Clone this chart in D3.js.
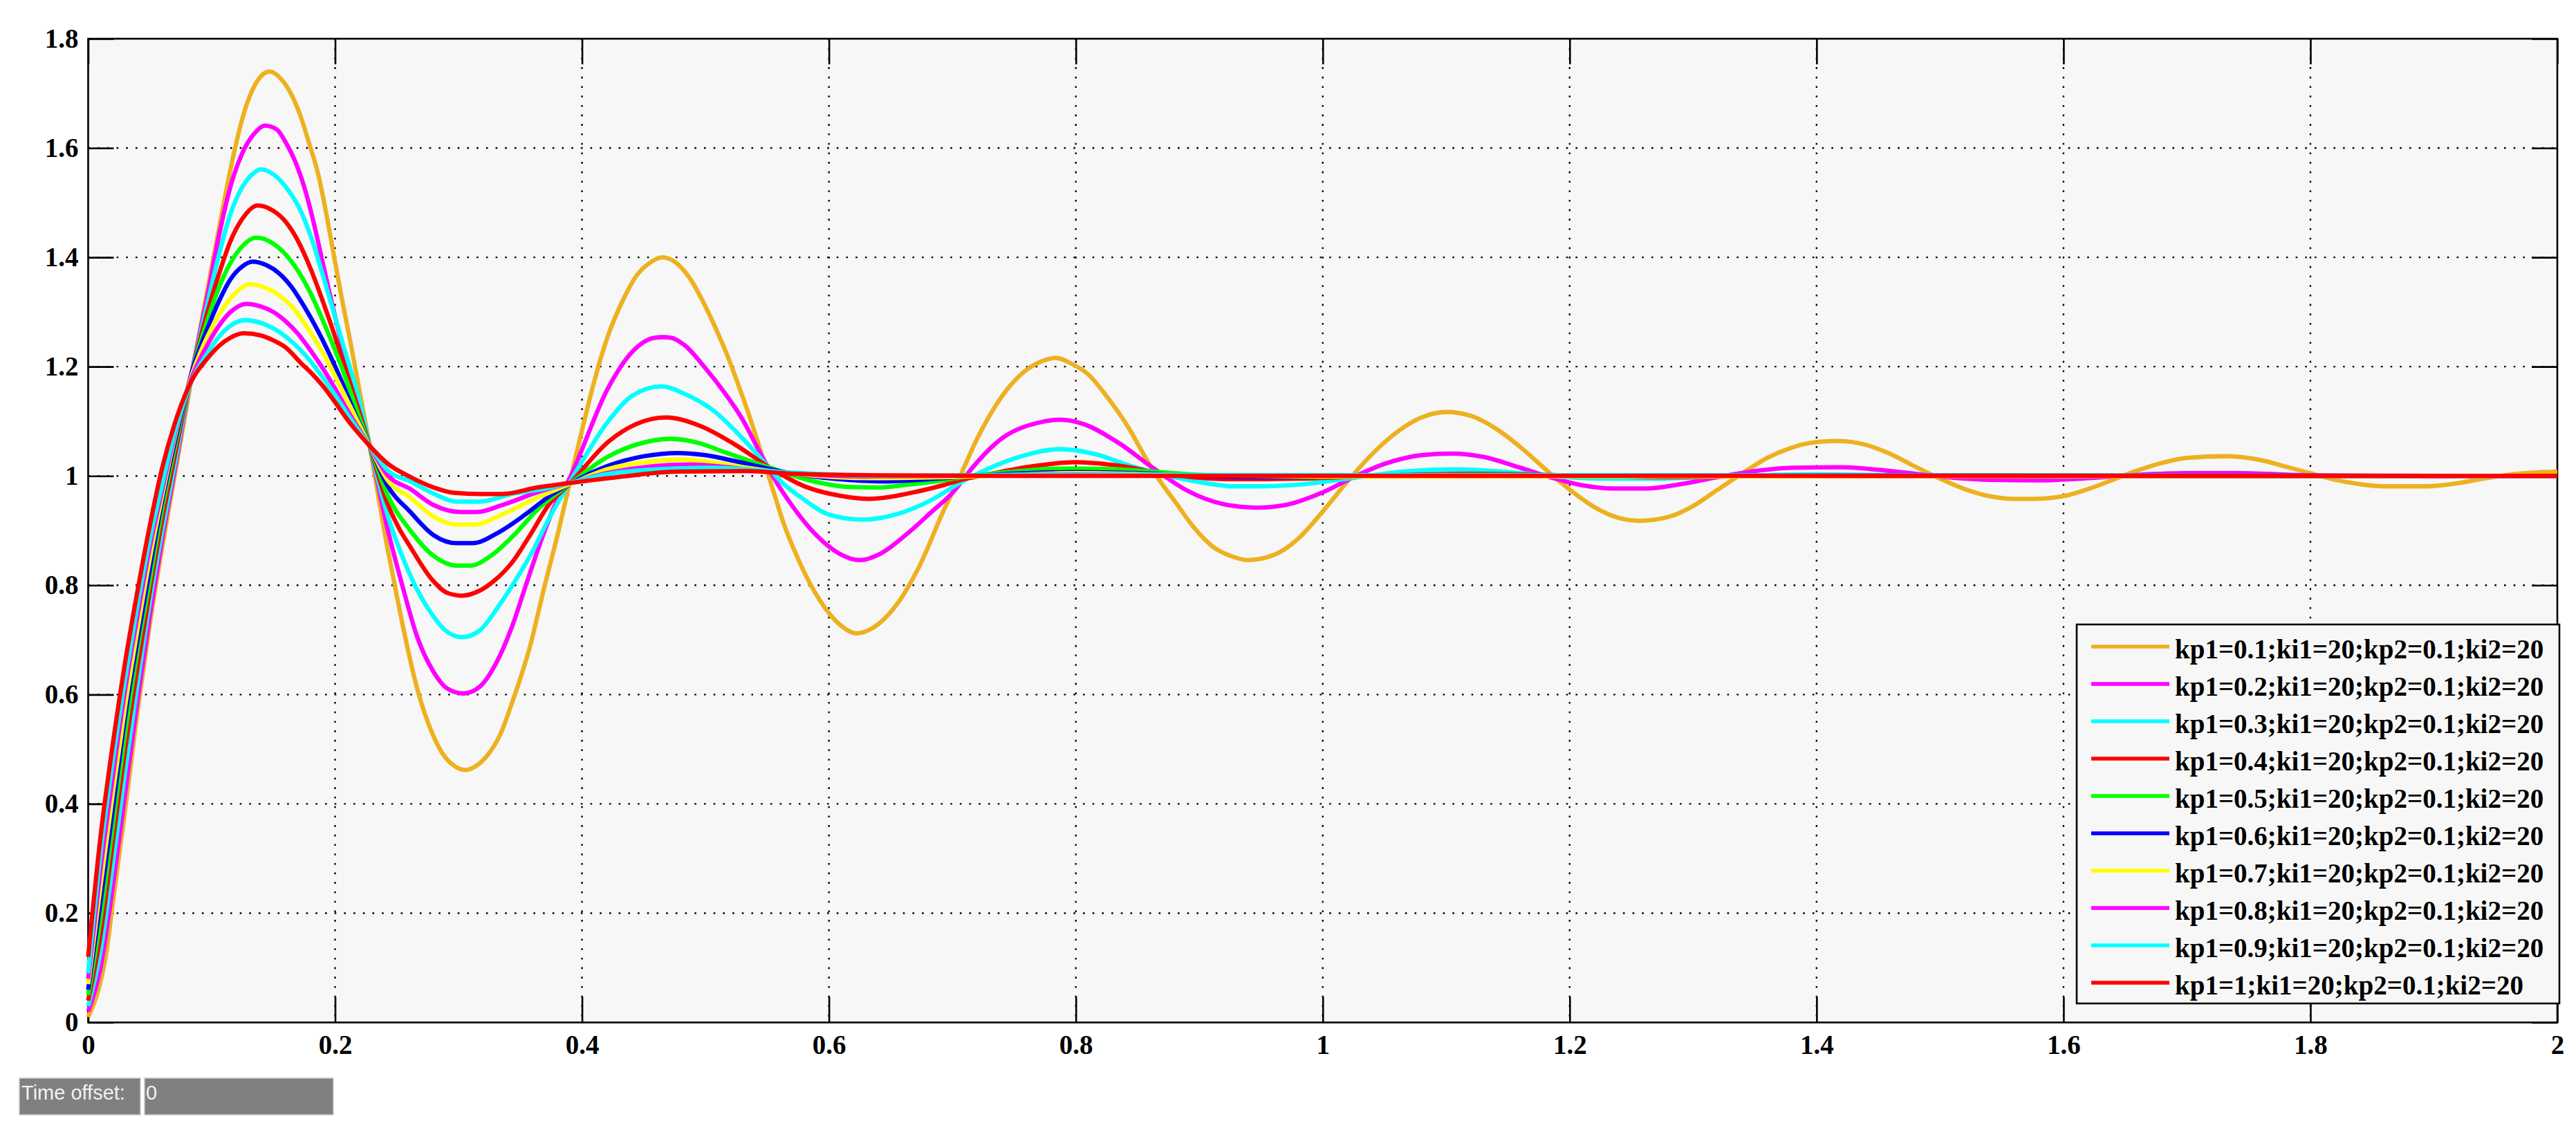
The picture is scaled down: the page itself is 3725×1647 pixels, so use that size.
<!DOCTYPE html>
<html><head><meta charset="utf-8">
<script src="https://cdn.jsdelivr.net/npm/d3@7"></script>
<style>html,body{margin:0;padding:0;background:#fff;}svg{display:block;}</style>
</head><body>
<script>
// ---------- data ----------
const xTicks = [0,0.2,0.4,0.6,0.8,1,1.2,1.4,1.6,1.8,2];
const xTickLabels = ["0","0.2","0.4","0.6","0.8","1","1.2","1.4","1.6","1.8","2"];
const yTicks = [0,0.2,0.4,0.6,0.8,1,1.2,1.4,1.6,1.8];
const yTickLabels = ["0","0.2","0.4","0.6","0.8","1","1.2","1.4","1.6","1.8"];
const seriesNames = [
 "kp1=0.1;ki1=20;kp2=0.1;ki2=20","kp1=0.2;ki1=20;kp2=0.1;ki2=20","kp1=0.3;ki1=20;kp2=0.1;ki2=20",
 "kp1=0.4;ki1=20;kp2=0.1;ki2=20","kp1=0.5;ki1=20;kp2=0.1;ki2=20","kp1=0.6;ki1=20;kp2=0.1;ki2=20",
 "kp1=0.7;ki1=20;kp2=0.1;ki2=20","kp1=0.8;ki1=20;kp2=0.1;ki2=20","kp1=0.9;ki1=20;kp2=0.1;ki2=20",
 "kp1=1;ki1=20;kp2=0.1;ki2=20"];
const seriesColors = ["#EDB120","#FF00FF","#00FFFF","#FF0000","#00FF00","#0000FF","#FFFF00","#FF00FF","#00FFFF","#FF0000"];
const timeOffsetLabel = "Time offset:";
const timeOffsetValue = "0";

// [time, value] pairs
const kp01 = [[0,0.01],[0.01,0.075],[0.0145,0.124],[0.02,0.22],[0.03,0.39],[0.04,0.57],[0.05,0.73],[0.06,0.87],[0.07,1.0],[0.08,1.13],[0.09,1.26],[0.0966,1.34],[0.1041,1.43],[0.1116,1.52],[0.119,1.60],[0.1284,1.68],[0.1377,1.725],[0.147,1.74],[0.1564,1.726],[0.1639,1.701],[0.1713,1.663],[0.1788,1.61],[0.1863,1.552],[0.1937,1.47],[0.1993,1.40],[0.205,1.33],[0.2124,1.245],[0.2199,1.155],[0.228,1.055],[0.2423,0.87],[0.2479,0.805],[0.2554,0.72],[0.2666,0.61],[0.2759,0.545],[0.2871,0.492],[0.2962,0.47],[0.3054,0.462],[0.3146,0.47],[0.3238,0.49],[0.3338,0.527],[0.3441,0.59],[0.3581,0.69],[0.3693,0.795],[0.3805,0.895],[0.3898,0.985],[0.3954,1.04],[0.4216,1.26],[0.4328,1.32],[0.444,1.366],[0.455,1.39],[0.465,1.40],[0.475,1.392],[0.486,1.366],[0.5,1.31],[0.5093,1.265],[0.5187,1.215],[0.5261,1.17],[0.5355,1.11],[0.5448,1.045],[0.5504,1.005],[0.556,0.965],[0.5635,0.912],[0.5747,0.85],[0.5859,0.798],[0.599,0.752],[0.6083,0.729],[0.6223,0.712],[0.6363,0.723],[0.655,0.765],[0.6737,0.837],[0.6924,0.934],[0.7064,1.0],[0.7185,1.061],[0.7316,1.116],[0.7446,1.159],[0.7577,1.19],[0.7726,1.21],[0.7838,1.216],[0.7969,1.205],[0.81,1.186],[0.8249,1.146],[0.8436,1.085],[0.8548,1.04],[0.866,0.998],[0.881,0.951],[0.8959,0.905],[0.9108,0.871],[0.9276,0.852],[0.9388,0.846],[0.96,0.855],[0.98,0.885],[1.0,0.935],[1.02,0.99],[1.04,1.04],[1.06,1.08],[1.08,1.107],[1.10,1.117],[1.12,1.11],[1.14,1.087],[1.16,1.053],[1.18,1.013],[1.20,0.975],[1.22,0.943],[1.24,0.923],[1.256,0.918],[1.28,0.925],[1.30,0.945],[1.32,0.975],[1.34,1.005],[1.36,1.033],[1.38,1.052],[1.40,1.062],[1.416,1.064],[1.44,1.057],[1.46,1.04],[1.48,1.017],[1.50,0.995],[1.52,0.976],[1.54,0.963],[1.56,0.958],[1.575,0.958],[1.60,0.963],[1.62,0.976],[1.64,0.993],[1.66,1.01],[1.68,1.024],[1.70,1.033],[1.731,1.036],[1.76,1.029],[1.78,1.017],[1.80,1.005],[1.82,0.993],[1.84,0.985],[1.86,0.981],[1.893,0.981],[1.92,0.987],[1.94,0.995],[1.96,1.002],[1.98,1.006],[2.0,1.008]];
const kp02 = [[0,0.02],[0.01,0.10],[0.02,0.25],[0.03,0.42],[0.04,0.59],[0.05,0.745],[0.06,0.885],[0.07,1.01],[0.084,1.19],[0.0966,1.33],[0.106,1.44],[0.1153,1.53],[0.1247,1.59],[0.134,1.625],[0.1433,1.641],[0.1527,1.634],[0.1601,1.61],[0.1676,1.576],[0.1751,1.528],[0.1825,1.465],[0.19,1.39],[0.1975,1.315],[0.205,1.245],[0.2124,1.18],[0.2218,1.11],[0.228,1.055],[0.2423,0.905],[0.2544,0.80],[0.2666,0.705],[0.2796,0.642],[0.2909,0.611],[0.3039,0.602],[0.317,0.614],[0.3301,0.656],[0.3431,0.723],[0.3544,0.799],[0.3655,0.873],[0.3768,0.94],[0.3898,0.995],[0.4216,1.163],[0.4402,1.226],[0.4589,1.253],[0.4654,1.254],[0.472,1.253],[0.4832,1.239],[0.5,1.197],[0.5149,1.154],[0.5299,1.104],[0.5448,1.04],[0.556,0.994],[0.571,0.943],[0.5896,0.892],[0.6083,0.858],[0.6251,0.846],[0.6419,0.858],[0.6643,0.896],[0.683,0.934],[0.7017,0.973],[0.7129,1.006],[0.7409,1.07],[0.7689,1.097],[0.7876,1.103],[0.8063,1.095],[0.8343,1.061],[0.8623,1.015],[0.8903,0.973],[0.9183,0.949],[0.946,0.942],[0.97,0.947],[1.0,0.97],[1.025,0.998],[1.05,1.022],[1.08,1.038],[1.105,1.041],[1.13,1.035],[1.16,1.015],[1.185,0.997],[1.21,0.983],[1.235,0.977],[1.262,0.977],[1.29,0.985],[1.32,0.998],[1.35,1.009],[1.38,1.015],[1.42,1.016],[1.46,1.009],[1.50,0.999],[1.54,0.993],[1.58,0.992],[1.62,0.996],[1.66,1.002],[1.70,1.005],[1.74,1.005],[1.80,1.001],[1.9,0.999],[2.0,1.0]];
const kp03 = [[0,0.03],[0.01,0.13],[0.02,0.29],[0.03,0.46],[0.04,0.62],[0.05,0.77],[0.06,0.90],[0.07,1.02],[0.084,1.19],[0.0966,1.315],[0.106,1.405],[0.1153,1.48],[0.1247,1.528],[0.132,1.55],[0.14,1.561],[0.1527,1.547],[0.162,1.523],[0.1713,1.489],[0.1807,1.436],[0.19,1.368],[0.1993,1.296],[0.2087,1.223],[0.2199,1.136],[0.228,1.055],[0.2423,0.93],[0.2535,0.858],[0.2647,0.80],[0.2778,0.749],[0.289,0.718],[0.303,0.705],[0.317,0.717],[0.3319,0.76],[0.3478,0.815],[0.3599,0.862],[0.373,0.921],[0.3898,0.987],[0.4216,1.101],[0.4402,1.146],[0.4645,1.164],[0.4832,1.15],[0.5056,1.121],[0.5261,1.078],[0.5448,1.032],[0.5616,0.989],[0.5803,0.956],[0.599,0.93],[0.627,0.92],[0.655,0.93],[0.683,0.956],[0.7073,0.989],[0.722,1.006],[0.7502,1.032],[0.7876,1.049],[0.8156,1.04],[0.8436,1.019],[0.8716,1.002],[0.8996,0.989],[0.9277,0.981],[0.9463,0.981],[0.98,0.984],[1.03,0.998],[1.07,1.009],[1.11,1.012],[1.15,1.007],[1.19,0.999],[1.23,0.995],[1.27,0.995],[1.32,0.999],[1.4,1.003],[1.5,1.0],[1.6,0.999],[2.0,1.0]];
const kp04 = [[0,0.04],[0.01,0.16],[0.02,0.33],[0.03,0.50],[0.04,0.65],[0.05,0.79],[0.06,0.92],[0.07,1.035],[0.084,1.19],[0.0966,1.30],[0.106,1.37],[0.1153,1.43],[0.1247,1.47],[0.1373,1.495],[0.15,1.485],[0.16,1.465],[0.17,1.43],[0.18,1.38],[0.19,1.32],[0.2,1.255],[0.21,1.185],[0.22,1.115],[0.228,1.055],[0.2423,0.95],[0.2516,0.905],[0.261,0.87],[0.2787,0.81],[0.2909,0.786],[0.303,0.781],[0.317,0.79],[0.3282,0.807],[0.3431,0.841],[0.358,0.892],[0.373,0.947],[0.3898,0.985],[0.4216,1.063],[0.444,1.095],[0.4682,1.107],[0.4963,1.091],[0.5243,1.057],[0.5523,1.015],[0.5803,0.981],[0.6083,0.964],[0.6326,0.958],[0.6643,0.968],[0.6924,0.983],[0.7092,0.994],[0.7316,1.004],[0.7689,1.019],[0.7988,1.025],[0.834,1.019],[0.8716,1.004],[0.9276,0.994],[0.946,0.994],[0.98,0.995],[1.04,1.0],[1.12,1.004],[1.2,1.001],[1.28,0.998],[1.4,1.001],[2.0,1.0]];
const kp05 = [[0,0.05],[0.01,0.19],[0.02,0.36],[0.03,0.53],[0.04,0.68],[0.05,0.81],[0.06,0.94],[0.07,1.05],[0.084,1.19],[0.0966,1.285],[0.106,1.345],[0.1153,1.39],[0.1247,1.42],[0.136,1.436],[0.15,1.425],[0.16,1.405],[0.17,1.375],[0.18,1.335],[0.19,1.285],[0.2,1.23],[0.21,1.17],[0.22,1.105],[0.228,1.055],[0.2423,0.966],[0.261,0.90],[0.2796,0.854],[0.2983,0.836],[0.3095,0.836],[0.3263,0.854],[0.345,0.892],[0.3637,0.938],[0.3898,0.985],[0.4216,1.036],[0.445,1.058],[0.472,1.068],[0.495,1.06],[0.515,1.044],[0.5523,1.015],[0.5896,0.989],[0.615,0.98],[0.64,0.979],[0.66,0.983],[0.683,0.989],[0.709,0.998],[0.75,1.008],[0.788,1.0135],[0.82,1.013],[0.8436,1.011],[0.9,1.002],[0.937,0.999],[0.98,0.998],[1.05,1.0],[1.12,1.002],[1.3,1.0],[2.0,1.0]];
const kp06 = [[0,0.06],[0.01,0.22],[0.02,0.39],[0.03,0.56],[0.04,0.70],[0.05,0.83],[0.06,0.955],[0.07,1.06],[0.084,1.19],[0.0966,1.27],[0.106,1.32],[0.1153,1.36],[0.1247,1.383],[0.133,1.392],[0.145,1.385],[0.155,1.37],[0.165,1.345],[0.175,1.31],[0.185,1.27],[0.195,1.225],[0.205,1.175],[0.215,1.12],[0.228,1.055],[0.2423,0.983],[0.261,0.934],[0.2796,0.892],[0.2983,0.877],[0.3114,0.877],[0.3319,0.896],[0.3544,0.93],[0.373,0.962],[0.3898,0.985],[0.4216,1.019],[0.45,1.036],[0.4776,1.042],[0.5,1.038],[0.5243,1.027],[0.5616,1.008],[0.6083,0.994],[0.6457,0.99],[0.6924,0.996],[0.7316,1.002],[0.8,1.007],[0.85,1.005],[0.9,1.0],[0.95,0.998],[1.05,1.0],[1.15,1.001],[2.0,1.0]];
const kp07 = [[0,0.07],[0.01,0.25],[0.02,0.42],[0.03,0.58],[0.04,0.72],[0.05,0.85],[0.06,0.965],[0.07,1.07],[0.084,1.185],[0.0966,1.255],[0.106,1.295],[0.1153,1.325],[0.1247,1.345],[0.131,1.351],[0.145,1.343],[0.155,1.33],[0.165,1.31],[0.175,1.28],[0.185,1.245],[0.195,1.205],[0.205,1.16],[0.215,1.115],[0.228,1.055],[0.2423,0.993],[0.261,0.96],[0.2796,0.926],[0.2983,0.911],[0.3133,0.911],[0.3357,0.93],[0.3637,0.96],[0.3898,0.985],[0.4216,1.013],[0.45,1.025],[0.4813,1.03],[0.505,1.025],[0.5336,1.015],[0.571,1.004],[0.6363,0.996],[0.7,0.998],[0.8,1.005],[0.9,1.001],[1.0,0.999],[2.0,1.0]];
const kp08 = [[0,0.08],[0.01,0.28],[0.02,0.45],[0.03,0.61],[0.04,0.745],[0.05,0.87],[0.06,0.975],[0.07,1.075],[0.084,1.18],[0.0966,1.24],[0.106,1.275],[0.1153,1.30],[0.128,1.315],[0.14,1.31],[0.15,1.30],[0.16,1.283],[0.17,1.26],[0.18,1.23],[0.19,1.197],[0.2,1.16],[0.21,1.12],[0.228,1.055],[0.2423,1.002],[0.261,0.976],[0.2796,0.947],[0.302,0.934],[0.315,0.934],[0.3357,0.947],[0.3637,0.97],[0.3898,0.987],[0.4216,1.006],[0.487,1.021],[0.552,1.008],[0.627,0.999],[0.7,1.0],[0.8,1.003],[0.9,1.001],[2.0,1.0]];
const kp09 = [[0,0.09],[0.01,0.31],[0.02,0.48],[0.03,0.63],[0.04,0.765],[0.05,0.885],[0.06,0.985],[0.07,1.08],[0.084,1.175],[0.0966,1.225],[0.106,1.255],[0.1153,1.275],[0.127,1.285],[0.14,1.28],[0.15,1.27],[0.16,1.255],[0.17,1.235],[0.18,1.21],[0.19,1.18],[0.2,1.148],[0.21,1.113],[0.228,1.055],[0.2423,1.011],[0.261,0.99],[0.2796,0.968],[0.2983,0.953],[0.317,0.953],[0.345,0.968],[0.373,0.978],[0.3898,0.987],[0.4216,1.004],[0.46,1.012],[0.5056,1.015],[0.571,1.006],[0.646,1.0],[0.75,1.002],[2.0,1.0]];
const kp10 = [[0,0.12],[0.01,0.34],[0.02,0.51],[0.03,0.66],[0.04,0.79],[0.05,0.91],[0.06,1.015],[0.07,1.095],[0.084,1.175],[0.0966,1.215],[0.106,1.238],[0.1153,1.253],[0.126,1.261],[0.14,1.257],[0.15,1.248],[0.16,1.235],[0.173,1.205],[0.18,1.19],[0.19,1.165],[0.2,1.135],[0.21,1.103],[0.228,1.055],[0.2423,1.023],[0.261,0.998],[0.2796,0.979],[0.2965,0.969],[0.317,0.967],[0.3357,0.967],[0.3637,0.979],[0.3898,0.987],[0.429,0.998],[0.4776,1.008],[0.5336,1.009],[0.571,1.004],[0.646,1.001],[0.75,1.0],[2.0,1.0]];
const seriesData = [kp01,kp02,kp03,kp04,kp05,kp06,kp07,kp08,kp09,kp10];

// ---------- layout ----------
const W = 3725, H = 1647;
const L = 127.5, R = 3698, T = 56, B = 1478.5;
const svg = d3.select("body").append("svg").attr("width", W).attr("height", H)
  .style("font-family", "'Liberation Serif','Times New Roman',serif");
svg.append("rect").attr("width", W).attr("height", H).attr("fill", "#ffffff");

const x = d3.scaleLinear().domain([0, 2]).range([L, R]);
const y = d3.scaleLinear().domain([0, 1.8]).range([B, T]);

svg.append("rect").attr("x", L).attr("y", T).attr("width", R - L).attr("height", B - T).attr("fill", "#F7F7F7");

// grid
const grid = svg.append("g").attr("stroke", "#000").attr("stroke-width", 2.4).attr("stroke-dasharray", "2.6 11.1");
grid.selectAll("line.v").data(xTicks.filter(d => d > 0 && d < 2)).join("line")
  .attr("x1", d => x(d)).attr("x2", d => x(d)).attr("y1", T).attr("y2", B);
grid.selectAll("line.h").data(yTicks.filter(d => d > 0 && d < 1.8)).join("line")
  .attr("x1", L).attr("x2", R).attr("y1", d => y(d)).attr("y2", d => y(d));

// axes with inward ticks
const TK = 37;
function styleAxis(g) {
  g.select(".domain").remove();
  g.selectAll(".tick line").attr("stroke", "#000").attr("stroke-width", 2.6);
  g.selectAll(".tick text").attr("fill", "#000").attr("font-size", 39).attr("font-weight", "bold")
    .attr("font-family", "'Liberation Serif','Times New Roman',serif");
}
svg.append("g").attr("transform", `translate(0,${B})`)
  .call(d3.axisBottom(x).tickValues(xTicks).tickFormat((d, i) => xTickLabels[i]).tickSizeInner(-TK).tickSizeOuter(0).tickPadding(18))
  .call(styleAxis);
svg.append("g").attr("transform", `translate(0,${T})`)
  .call(d3.axisTop(x).tickValues(xTicks).tickFormat("").tickSizeInner(-TK).tickSizeOuter(0))
  .call(styleAxis);
svg.append("g").attr("transform", `translate(${L},0)`)
  .call(d3.axisLeft(y).tickValues(yTicks).tickFormat((d, i) => yTickLabels[i]).tickSizeInner(-TK).tickSizeOuter(0).tickPadding(14))
  .call(styleAxis);
svg.append("g").attr("transform", `translate(${R},0)`)
  .call(d3.axisRight(y).tickValues(yTicks).tickFormat("").tickSizeInner(-TK).tickSizeOuter(0))
  .call(styleAxis);

// frame
svg.append("rect").attr("x", L).attr("y", T).attr("width", R - L).attr("height", B - T)
  .attr("fill", "none").attr("stroke", "#000").attr("stroke-width", 2.6);

// curves
const line = d3.line().x(d => x(d[0])).y(d => y(d[1])).curve(d3.curveMonotoneX);
svg.append("g").selectAll("path").data(seriesData).join("path")
  .attr("d", d => line(d)).attr("fill", "none")
  .attr("stroke", (d, i) => seriesColors[i]).attr("stroke-width", 6.3)
  .attr("stroke-linejoin", "round").attr("stroke-linecap", "butt");

// legend
const lgX = 3003, lgY = 903, lgW = 698, lgH = 548, rowH = 54, row0 = 935;
const lg = svg.append("g");
lg.append("rect").attr("x", lgX).attr("y", lgY).attr("width", lgW).attr("height", lgH)
  .attr("fill", "#F7F7F7").attr("stroke", "#000").attr("stroke-width", 2.6);
const rows = lg.selectAll("g.row").data(seriesNames).join("g").attr("class", "row")
  .attr("transform", (d, i) => `translate(0,${row0 + i * rowH})`);
rows.append("line").attr("x1", 3024).attr("x2", 3137).attr("y1", 0).attr("y2", 0)
  .attr("stroke", (d, i) => seriesColors[i]).attr("stroke-width", 5.6);
rows.append("text").attr("x", 3145).attr("y", 17).attr("font-size", 39).attr("font-weight", "bold")
  .attr("fill", "#000").text(d => d);

// time offset bar
const tb = svg.append("g").style("font-family", "'Liberation Sans',Arial,sans-serif");
tb.append("rect").attr("x", 28).attr("y", 1559).attr("width", 175).attr("height", 53)
  .attr("fill", "#808080").attr("stroke", "#C8C8C8").attr("stroke-width", 1.5);
tb.append("rect").attr("x", 209).attr("y", 1559).attr("width", 273).attr("height", 53)
  .attr("fill", "#808080").attr("stroke", "#C8C8C8").attr("stroke-width", 1.5);
tb.append("text").attr("x", 31).attr("y", 1590).attr("font-size", 29).attr("fill", "#F2F2F2").text(timeOffsetLabel);
tb.append("text").attr("x", 211).attr("y", 1590).attr("font-size", 29).attr("fill", "#F2F2F2").text(timeOffsetValue);
</script>
</body></html>
